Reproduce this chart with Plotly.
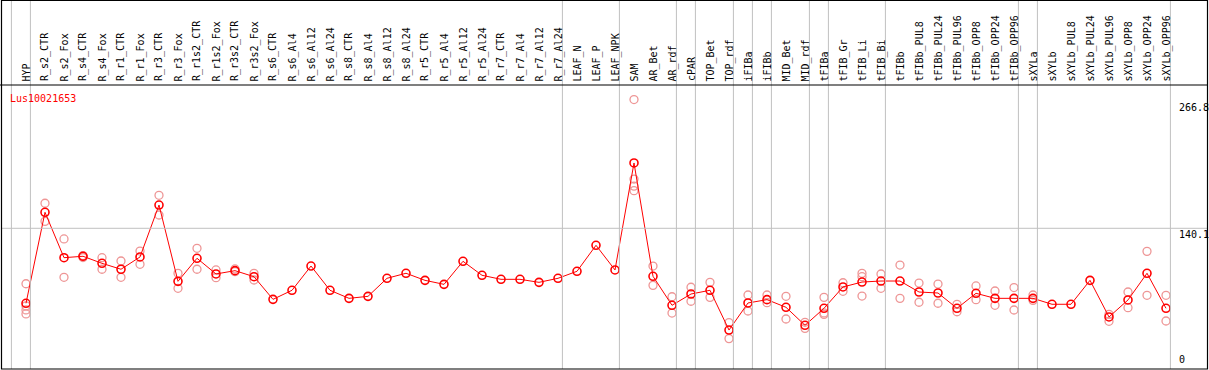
import plotly.graph_objects as go

categories = ["HYP", "R_s2_CTR", "R_s2_Fox", "R_s4_CTR", "R_s4_Fox", "R_r1_CTR", "R_r1_Fox",
              "R_r3_CTR", "R_r3_Fox", "R_r1s2_CTR", "R_r1s2_Fox", "R_r3s2_CTR", "R_r3s2_Fox",
              "R_s6_CTR", "R_s6_Al4", "R_s6_Al12", "R_s6_Al24", "R_s8_CTR", "R_s8_Al4",
              "R_s8_Al12", "R_s8_Al24", "R_r5_CTR", "R_r5_Al4", "R_r5_Al12", "R_r5_Al24",
              "R_r7_CTR", "R_r7_Al4", "R_r7_Al12", "R_r7_Al24", "LEAF_N", "LEAF_P", "LEAF_NPK",
              "SAM", "AR_Bet", "AR_rdf", "cPAR", "TOP_Bet", "TOP_rdf", "iFIBa", "iFIBb",
              "MID_Bet", "MID_rdf", "tFIBa", "tFIB_Gr", "tFIB_Li", "tFIB_Bi", "tFIBb",
              "tFIBb_PUL8", "tFIBb_PUL24", "tFIBb_PUL96", "tFIBb_OPP8", "tFIBb_OPP24",
              "tFIBb_OPP96", "sXYLa", "sXYLb", "sXYLb_PUL8", "sXYLb_PUL24", "sXYLb_PUL96",
              "sXYLb_OPP8", "sXYLb_OPP24", "sXYLb_OPP96"]

means = [65.6, 156, 110.9, 112.3, 105.3, 99.4, 111.6, 163.2, 87.4, 110.3, 94.7, 98, 92,
         69.5, 78.5, 102.6, 78.5, 70.5, 72.5, 90.4, 95.4, 88.4, 84.4, 107.3, 93.4,
         89.4, 89.4, 86.4, 90.4, 97.4, 123.2, 98.7,
         205, 92.4, 63.6, 74.8, 78.5, 39, 65.9, 69.2, 61.6, 43.7, 60.6, 81.8, 86.7, 87.7,
         87.7, 76.8, 75.8, 60.6, 75.5, 70.5, 70.5, 70.5, 64.6, 64.6, 88.4, 52, 68.9, 95.4, 60.6]

replicates = [
    [85, 63, 59, 55], [165, 147], [129.5, 91.4], [113, 111], [110.9, 99.4], [107.6, 91.4],
    [117.5, 104.3], [172.9, 153.3], [95.4, 80.5], [120.2, 99.4], [98.7, 91], [99.7, 97],
    [95.4, 88.7],
    [], [], [], [], [], [], [], [], [], [], [], [], [], [], [], [], [], [], [],
    [268, 189, 182, 177.5], [102.6, 83.4], [72.1, 55.9], [81.5, 67.6], [86.4, 71.5],
    [46.4, 30.5], [73.8, 57.9], [73.8, 66.2], [72.5, 50], [46.7, 40.7], [71.5, 56, 54.6],
    [86, 77.5], [95.4, 92, 72.8], [94.7, 80.5],
    [103.6, 70.5], [85.7, 66.6], [84.7, 65.6], [64.6, 57.2], [82.8, 69.2], [77.8, 63.6],
    [81.2, 58.9], [73.8, 68.5], [], [], [], [54.6, 47.7], [76.8, 61.2], [117.2, 73.5],
    [73.5, 48]]

group_ends = [-1, 0, 28, 31, 34, 35, 37, 38, 39, 41, 42, 45, 52, 53, 60]
y_ticks = [0, 140.1, 266.8]
title = "Lus10021653"

W, H = 1209, 370
STEP = 19.0
X0 = 26.0
FONT = "DejaVu Sans Mono"

xi = list(range(len(categories)))
rx, ry = [], []
for i, reps in enumerate(replicates):
    for v in reps:
        rx.append(i)
        ry.append(v)

fig = go.Figure()
fig.add_trace(go.Scatter(x=rx, y=ry, mode="markers",
                         marker=dict(symbol="circle-open", size=8, color="rgb(238,150,150)",
                                     line=dict(width=1.3, color="rgb(238,150,150)")),
                         hoverinfo="skip", showlegend=False))
fig.add_trace(go.Scatter(x=xi, y=means, mode="lines+markers",
                         line=dict(color="#ff0000", width=1),
                         marker=dict(symbol="circle-open", size=8, color="#ff0000",
                                     line=dict(width=1.6, color="#ff0000")),
                         showlegend=False))

def px_x(p):
    return (p - X0) / STEP

def py(p):
    return 1 - p / H

ytop_px, ybot_px = 85, 369.3
yscale = 1.0065
ymax = (ybot_px - ytop_px) / yscale

shapes = []
for k in group_ends:
    xx = k + 4.4 / STEP
    shapes.append(dict(type="line", xref="x", yref="paper", x0=xx, x1=xx, y0=py(369), y1=py(0),
                       line=dict(color="#c0c0c0", width=1)))
shapes.append(dict(type="line", xref="paper", yref="y", x0=1 / W, x1=1207 / W,
                   y0=y_ticks[1], y1=y_ticks[1], line=dict(color="#c0c0c0", width=1)))
shapes.append(dict(type="line", xref="paper", yref="paper", x0=0, x1=1207.5 / W,
                   y0=py(85), y1=py(85), line=dict(color="black", width=1.2)))
shapes.append(dict(type="rect", xref="paper", yref="paper", x0=1.5 / W, x1=1207.5 / W,
                   y0=py(369), y1=py(0.5), line=dict(color="black", width=1.2)))

annotations = []
for i, c in enumerate(categories):
    annotations.append(dict(x=i, xref="x", y=py(83.5), yref="paper", text=c, textangle=-90,
                            showarrow=False, xanchor="center", yanchor="bottom",
                            font=dict(family=FONT, size=10, color="black")))
for t in y_ticks:
    if t == 0:
        annotations.append(dict(x=1177 / W, xref="paper", y=py(367), yref="paper",
                                text=str(t), showarrow=False, xanchor="left", yanchor="bottom",
                                font=dict(family=FONT, size=10, color="black")))
    else:
        annotations.append(dict(x=1177 / W, xref="paper", y=t, yref="y", text=str(t),
                                showarrow=False, xanchor="left", yanchor="top", yshift=1,
                                font=dict(family=FONT, size=10, color="black")))
annotations.append(dict(x=8 / W, xref="paper", y=py(91), yref="paper", text=title,
                        showarrow=False, xanchor="left", yanchor="top",
                        font=dict(family=FONT, size=10, color="#ff0000")))

fig.update_layout(
    width=W, height=H, margin=dict(l=0, r=0, t=0, b=0),
    paper_bgcolor="white", plot_bgcolor="white",
    xaxis=dict(range=[px_x(0), px_x(W)], domain=[0, 1], visible=False, fixedrange=True),
    yaxis=dict(range=[0, ymax], domain=[py(ybot_px), py(ytop_px)], visible=False,
               fixedrange=True),
    shapes=shapes, annotations=annotations, showlegend=False,
)
fig.write_html("out.html", config={"displayModeBar": False})

with open("out.html", "r", encoding="utf-8") as f:
    html = f.read()
html = html.replace("<body>", '<body style="margin:0;padding:0;overflow:hidden">', 1)
with open("out.html", "w", encoding="utf-8") as f:
    f.write(html)
